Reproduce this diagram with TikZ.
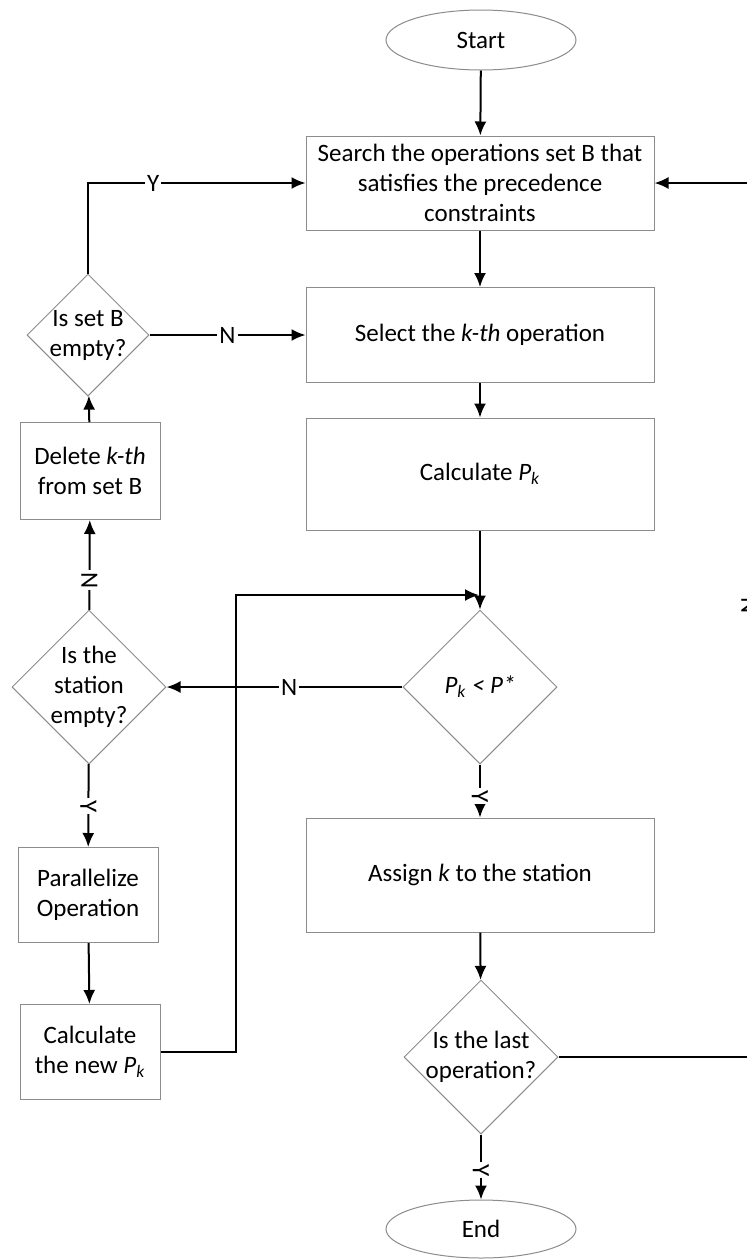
\documentclass[tikz,border=0pt]{standalone}
\usepackage{fontspec}
\setmainfont{Carlito}
\usetikzlibrary{shapes.geometric,arrows.meta}
\newcommand\Pk{\textit{P\textsubscript{k}}}
\begin{document}
\begin{tikzpicture}[x=0.5pt,y=-0.5pt]
% Styles
\tikzstyle{cadre}=[draw=black!45,line width=0.5pt,fill=white,align=center,font=\fontsize{12.5}{15}\selectfont]
\tikzstyle{boite}=[cadre,rectangle,inner sep=0pt,minimum width=\LrgB]
\tikzstyle{petite}=[cadre,rectangle,inner sep=0pt,minimum width=\LrgP,minimum height=47.5pt]
\tikzstyle{losange}=[cadre,diamond,inner sep=-5pt,minimum size=77pt]
\tikzstyle{borne}=[cadre,ellipse,inner sep=0pt,minimum width=95pt,minimum height=30pt]
\tikzstyle{fleche}=[-{Latex[length=7pt,width=6pt]},line width=1pt]
\tikzstyle{etiq}=[fill=white,inner sep=1pt,font=\fontsize{12.5}{14}\selectfont]
% Dimensions
\def\LrgB{174pt}
\def\LrgP{70pt}
\def\droite{749.5}
% Cadre de l'image
\useasboundingbox (0,0) rectangle (747,1259);
% Colonne principale
\node[borne] (debut) at (481,40) {Start};
\node[boite,minimum height=47pt] (recherche) at (480,183) {Search the operations set B that\\satisfies the precedence\\constraints};
\node[boite,minimum height=47.5pt] (choix) at (480,335) {Select the \textit{k-th} operation};
\node[boite,minimum height=56pt] (calcul) at (480,474) {Calculate \Pk};
\node[losange] (compare) at (480,687) {\textit{P\textsubscript{k} < P*}};
\node[boite,minimum height=57pt] (affecte) at (480,875) {Assign \textit{k} to the station};
\node[losange] (dernier) at (481,1057) {Is the last\\operation?};
\node[borne,minimum height=29pt] (fin) at (481,1229) {End};
% Colonne de gauche
\node[losange,minimum size=61pt] (vide) at (88,335) {Is set B\\empty?};
\node[petite,minimum height=48.5pt] (supprime) at (90,471) {Delete \textit{k-th}\\from set B};
\node[losange] (station) at (89,687) {Is the\\station\\empty?};
\node[petite] (parallele) at (88,895) {Parallelize\\Operation};
\node[petite] (nouveau) at (90,1052) {Calculate\\the new \Pk};
% Points de passage
\coordinate (coude) at (236,595);
\coordinate (jonction) at (479,595);
\coordinate (basdroit) at (\droite,1057);
\coordinate (hautdroit) at (\droite,183);
% Flèches
\draw[fleche] (debut) -- (recherche);
\draw[fleche] (recherche) -- (choix);
\draw[fleche] (choix) -- (calcul);
\draw[fleche] (calcul) -- (compare);
\draw[fleche] (compare) -- node[etiq,rotate=-90,pos=0.6] {Y} (affecte);
\draw[fleche] (affecte) -- (dernier);
\draw[fleche] (dernier) -- node[etiq,rotate=-90,pos=0.55] {Y} (fin);
\draw[fleche] (compare) -- node[etiq,pos=0.48] {N} (station);
\draw[fleche] (station) -- node[etiq,rotate=-90,pos=0.33] {N} (supprime);
\draw[fleche] (supprime) -- (vide);
\draw[fleche] (vide) -- node[etiq] {N} (choix);
\draw[fleche] (vide.north) |- node[etiq,pos=0.65] {Y} (recherche.west);
\draw[fleche] (station) -- node[etiq,rotate=-90,pos=0.51] {Y} (parallele);
\draw[fleche] (parallele) -- (nouveau);
\draw[fleche] (nouveau.east) -| (coude) -- (jonction);
\draw[fleche] (dernier.east) -- (basdroit) -- node[etiq,rotate=-90,pos=0.517] {N} (hautdroit) -- (recherche.east);
\end{tikzpicture}
\end{document}
